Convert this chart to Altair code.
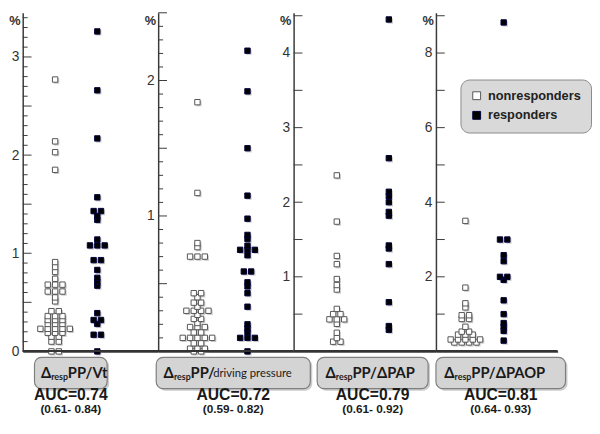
import altair as alt
import pandas as pd
import numpy as np

GROUPS = ["nonresponders", "responders"]

# ---- data (percent) ----
p1_non = [2.77, 2.14, 2.03, 1.85, 0.91, 0.86, 0.81, 0.74, 0.68, 0.68, 0.68, 0.61, 0.61, 0.61,
          0.55, 0.51, 0.41, 0.41, 0.36, 0.36, 0.36, 0.32, 0.32, 0.32, 0.28, 0.28, 0.28,
          0.23, 0.23, 0.23, 0.23, 0.23, 0.19, 0.19, 0.19, 0.15, 0.15, 0.10, 0.10, 0.0, 0.0]
p1_resp = [3.26, 2.66, 2.17, 1.57, 1.43, 1.43, 1.38, 1.34, 1.14, 1.08, 1.08, 1.08, 0.93, 0.93,
           0.83, 0.75, 0.71, 0.67, 0.39, 0.32, 0.32, 0.28, 0.17, 0.17, 0.0]
p2_non = [1.84, 1.17, 0.80, 0.77, 0.70, 0.70, 0.70, 0.43, 0.43, 0.40, 0.36, 0.36, 0.33,
          0.30, 0.30, 0.30, 0.30, 0.27, 0.24, 0.24, 0.21, 0.18, 0.18, 0.18, 0.14, 0.14,
          0.10, 0.10, 0.10, 0.10, 0.10, 0.06, 0.06, 0.02, 0.02, 0.02, 0.0, 0.0]
p2_resp = [2.22, 1.92, 1.50, 1.15, 0.98, 0.86, 0.83, 0.78, 0.75, 0.75, 0.75, 0.71, 0.59, 0.59,
           0.51, 0.48, 0.43, 0.33, 0.20, 0.17, 0.14, 0.10, 0.10, 0.10, 0.0]
p3_non = [2.36, 1.74, 1.28, 1.17, 0.97, 0.89, 0.83, 0.57, 0.50, 0.50, 0.43, 0.43, 0.43,
          0.37, 0.25, 0.18, 0.13, 0.13]
p3_resp = [4.45, 2.59, 2.14, 2.08, 2.00, 1.87, 1.82, 1.42, 1.38, 1.17, 0.66, 0.34, 0.29]
p4_non = [3.50, 1.71, 1.29, 1.18, 0.97, 0.97, 0.87, 0.87, 0.66, 0.53, 0.53, 0.45, 0.45, 0.45,
          0.32, 0.32, 0.32, 0.32, 0.32, 0.24, 0.24, 0.24, 0.24]
p4_resp = [8.82, 3.00, 3.00, 2.58, 2.42, 2.00, 2.00, 1.92, 1.37, 1.00, 0.76, 0.66, 0.55, 0.29]

panel_non = [p1_non, p2_non, p3_non, p4_non]
panel_resp = [p1_resp, p2_resp, p3_resp, p4_resp]

tick_label_values = [[0, 1, 2, 3], [1, 2], [1, 2, 3, 4], [2, 4, 6, 8]]
unit_text = ["%", "%", "%", "%"]
label_main = ["PP/Vt", "PP/", "PP/\u0394PAP", "PP/\u0394PAOP"]
label_extra = ["", "driving pressure", "", ""]
auc_text = ["AUC=0.74", "AUC=0.72", "AUC=0.79", "AUC=0.81"]
ci_text = ["(0.61- 0.84)", "(0.59- 0.82)", "(0.61- 0.92)", "(0.64- 0.93)"]

# ---- layout (pixels) ----
H = 345
LAYOUT = [
    dict(width=138, ymax=H / 100, major=0.5, minor=0.1, cols=[33, 76], box=(12, 86), anchor=29),
    dict(width=138, ymax=H / 138, major=0.5, minor=0.1, cols=[40, 91], box=(-2, 155), anchor=16),
    dict(width=145, ymax=H / 76, major=0.5, minor=None, cols=[44, 97], box=(24, 137), anchor=43),
    dict(width=124, ymax=H / 38, major=1.0, minor=None, cols=[30, 69], box=(0, 132), anchor=19),
]
SLOT = 7.5
AXIS_COLOR = "#3a3a3a"
RESP_W = 17
BOX_Y0, BOX_Y1 = 351, 383
LABEL_Y = 367
AUC_Y = 389
CI_Y = 404


def row_layout(values, group, center):
    vals = sorted(values)
    recs = []
    i = 0
    while i < len(vals):
        j = i
        while j < len(vals) and abs(vals[j] - vals[i]) < 1e-9:
            j += 1
        n = j - i
        for k in range(n):
            recs.append({"value": vals[i], "group": group, "xpos": center + (k - (n - 1) / 2) * SLOT})
        i = j
    return recs


legend = alt.Legend(
    orient="none", legendX=446, legendY=68, title=None,
    fillColor="#d9d9d9", strokeColor="#8a8a8a", cornerRadius=9, padding=10,
    labelFont="Liberation Sans", labelFontSize=13, labelFontWeight="bold", labelColor="#222",
    symbolType="square", symbolSize=64, symbolStrokeWidth=1, rowPadding=6, labelOffset=5,
)


def make_panel(i):
    L = LAYOUT[i]
    W = L["width"]
    c0, c1 = L["cols"]
    df = pd.DataFrame(row_layout(panel_non[i], GROUPS[0], c0) + row_layout(panel_resp[i], GROUPS[1], c1))
    ysc = alt.Scale(domain=[0, L["ymax"]], nice=False, zero=False)
    yaxis = alt.Axis(
        values=tick_label_values[i], ticks=False, grid=False, domain=True,
        domainColor=AXIS_COLOR, domainWidth=1.5,
        labelFont="Liberation Sans", labelFontSize=14, labelColor="#333", labelPadding=4,
        title=None,
    )
    xaxis = alt.Axis(ticks=False, labels=False, grid=False, domain=True,
                     domainColor=AXIS_COLOR, domainWidth=1.5, title=None)
    xsc = alt.Scale(domain=[0, W], nice=False, zero=False)
    xenc = alt.X("xpos:Q", scale=xsc, axis=xaxis)
    yenc = alt.Y("value:Q", scale=ysc, axis=yaxis)

    base = alt.Chart(df)
    shadow = base.mark_square(size=30, color="#8c8c8c", opacity=0.45, xOffset=1.5, yOffset=1.5).encode(
        x=xenc, y=yenc)
    pts = base.mark_square(size=30, strokeWidth=1, opacity=1).encode(
        x=xenc, y=yenc,
        fill=alt.Fill("group:N", scale=alt.Scale(domain=GROUPS, range=["#ffffff", "#000000"]), legend=legend),
        stroke=alt.Stroke("group:N", scale=alt.Scale(domain=GROUPS, range=["#555555", "#00003a"]), legend=legend),
    )

    major_vals = np.round(np.arange(L["major"], L["ymax"] + 1e-9, L["major"]), 3)
    major_df = pd.DataFrame({"t": major_vals})
    rule_major = alt.Chart(major_df).mark_rule(color=AXIS_COLOR, strokeWidth=1).encode(
        y=alt.Y("t:Q", scale=ysc, axis=yaxis), x=alt.value(0), x2=alt.value(9))
    layers = [rule_major]
    if L["minor"]:
        mv = np.round(np.arange(L["minor"], L["ymax"] + 1e-9, L["minor"]), 3)
        mv = [v for v in mv if abs(v / L["major"] - round(v / L["major"])) > 1e-6]
        minor_df = pd.DataFrame({"t": mv})
        layers.append(alt.Chart(minor_df).mark_rule(color=AXIS_COLOR, strokeWidth=1).encode(
            y=alt.Y("t:Q", scale=ysc, axis=yaxis), x=alt.value(0), x2=alt.value(5)))

    one = pd.DataFrame({"main": [label_main[i]], "extra": [label_extra[i]], "pct": [unit_text[i]],
                        "auc": [auc_text[i]], "ci": [ci_text[i]], "d": ["\u0394"], "sub": ["resp"]})
    t_pct = alt.Chart(one).mark_text(font="Liberation Sans", fontSize=13, fontWeight="bold", color="#333",
                                     align="center", baseline="middle").encode(
        x=alt.value(-8), y=alt.value(8), text="pct:N")

    bx0, bx1 = L["box"]
    cx = (bx0 + bx1) / 2
    box_shadow = alt.Chart(one).mark_rect(cornerRadius=7, fill="#9a9a9a", opacity=0.5).encode(
        x=alt.value(bx0 + 2), x2=alt.value(bx1 + 2), y=alt.value(BOX_Y0 + 2), y2=alt.value(BOX_Y1 + 2))
    box = alt.Chart(one).mark_rect(cornerRadius=7, fill="#d4d4d4", stroke="#7f7f7f", strokeWidth=1.2).encode(
        x=alt.value(bx0), x2=alt.value(bx1), y=alt.value(BOX_Y0), y2=alt.value(BOX_Y1))
    a = L["anchor"]
    t_delta = alt.Chart(one).mark_text(font="Lato", fontSize=15, fontWeight="bold", color="#1a1a1a",
                                       align="right", baseline="middle").encode(
        x=alt.value(a), y=alt.value(LABEL_Y), text="d:N")
    t_sub = alt.Chart(one).mark_text(font="Lato", fontSize=9, fontWeight="bold", color="#1a1a1a",
                                     align="left", baseline="middle").encode(
        x=alt.value(a), y=alt.value(LABEL_Y + 4), text="sub:N")
    t_main = alt.Chart(one).mark_text(font="Lato", fontSize=15, fontWeight="bold", color="#1a1a1a",
                                      align="left", baseline="middle").encode(
        x=alt.value(a + RESP_W), y=alt.value(LABEL_Y), text="main:N")
    t_extra = alt.Chart(one).mark_text(font="Lato", fontSize=11.5, fontWeight="normal", color="#1a1a1a",
                                       align="left", baseline="middle").encode(
        x=alt.value(a + RESP_W + 23), y=alt.value(LABEL_Y + 1), text="extra:N")
    t_auc = alt.Chart(one).mark_text(font="Liberation Sans", fontSize=16, fontWeight="bold", color="#1a1a1a",
                                     align="center", baseline="middle").encode(
        x=alt.value(cx), y=alt.value(AUC_Y), text="auc:N")
    t_ci = alt.Chart(one).mark_text(font="Liberation Sans", fontSize=12, fontWeight="bold", color="#1a1a1a",
                                    align="center", baseline="middle").encode(
        x=alt.value(cx), y=alt.value(CI_Y), text="ci:N")
    # baseline drawn last so nothing can cover it
    bottom = alt.Chart(one).mark_rule(color="#333333", strokeWidth=2).encode(
        x=alt.value(0), x2=alt.value(W), y=alt.value(H - 0.5))

    return alt.layer(*layers, shadow, pts, t_pct, box_shadow, box, t_delta, t_sub, t_main, t_extra,
                     t_auc, t_ci, bottom).properties(width=W, height=H)


panels = [make_panel(i) for i in range(4)]

chart = alt.hconcat(*panels, spacing=0, bounds="flush").resolve_scale(
    x="independent", y="independent", fill="shared", stroke="shared"
).properties(
    padding={"left": 0, "top": 0, "right": 0, "bottom": 0},
    background="white",
).configure_view(stroke="transparent")

chart.save("out.html", embed_options={"renderer": "svg", "actions": False})
